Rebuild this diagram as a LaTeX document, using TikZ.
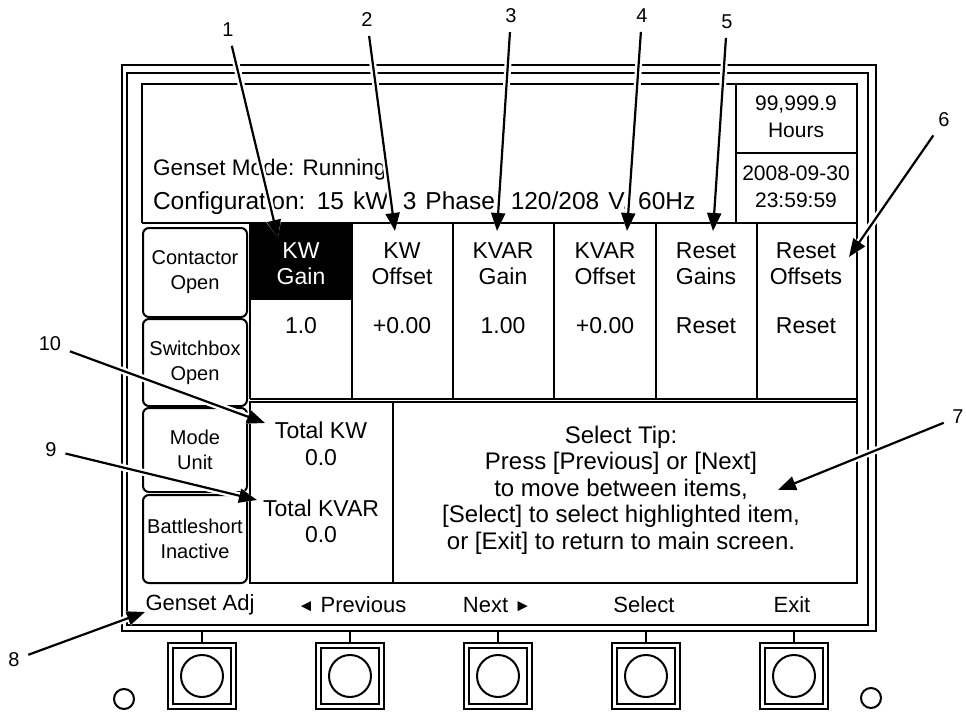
\documentclass[tikz,border=0pt]{standalone}
\usepackage{fontspec}
\setmainfont{Liberation Sans}
\usetikzlibrary{arrows.meta}

\newcommand{\pxfont}[2]{\fontsize{#1bp}{#2bp}\selectfont}

\begin{document}
\begin{tikzpicture}[x=1bp,y=-1bp,line width=2bp,
    callout/.style={-{Triangle[length=18bp,width=14bp]},line width=2.2bp,shorten <=4bp,
      preaction={draw=white,line width=7bp}},
    numlabel/.style={font=\pxfont{20}{24},inner sep=4bp},
    softkey/.style={draw,rounded corners=6bp,minimum width=104bp,inner sep=0pt,
      align=center,font=\pxfont{20}{25}},
    cellhead/.style={align=center,font=\pxfont{23}{26}},
    cellval/.style={font=\pxfont{23}{26}},
    keylabel/.style={font=\pxfont{22}{26}},
    keycap/.style={line width=1.6bp}]

    \useasboundingbox (0,0) rectangle (966,712);

    % housing
    \draw (122,65) rectangle (876,631);
    \draw (127,73) rectangle (868,625);

    % status area
    \draw (142,223) -- (142,84) -- (857,84) -- (857,583);
    \draw (736,84) rectangle (857,223);
    \draw (736,153) -- (857,153);
    \node[anchor=west,inner sep=0pt,font=\pxfont{22.5}{26}] (mode) at (152,170) {Genset Mode: Running};
    \node[anchor=west,inner sep=0pt,font={\pxfont{24.5}{26}\spaceskip=9bp\relax}] (config) at (152,203)
        {Configuration: 15 kW, 3 Phase, 120/208 V, 60Hz};
    \node[align=center,font=\pxfont{21}{27}] (hours) at (796,117) {99,999.9\\Hours};
    \node[align=center,font=\pxfont{21}{27}] (clock) at (796,187) {2008-09-30\\23:59:59};

    % parameter table
    \fill (250,223) rectangle (352,300);
    \draw (142,223) -- (857,223);
    \foreach \x in {250,352,453,554,656,757}
        \draw (\x,223) -- (\x,399);
    \draw (250,399) -- (857,399);

    \node[cellhead,text=white] (kwgain) at (301,264) {KW\\Gain};
    \node[cellhead] (kwoffset) at (402,264) {KW\\Offset};
    \node[cellhead] (kvargain) at (503,264) {KVAR\\Gain};
    \node[cellhead] (kvaroffset) at (605,264) {KVAR\\Offset};
    \node[cellhead] (resetgains) at (706,264) {Reset\\Gains};
    \node[cellhead] (resetoffsets) at (806,264) {Reset\\Offsets};

    \node[cellval] (kwgainval) at (301,326) {1.0};
    \node[cellval] (kwoffsetval) at (402,326) {+0.00};
    \node[cellval] (kvargainval) at (503,326) {1.00};
    \node[cellval] (kvaroffsetval) at (605,326) {+0.00};
    \node[cellval] (resetgainsval) at (706,326) {Reset};
    \node[cellval] (resetoffsetsval) at (806,326) {Reset};

    % side keys
    \node[softkey,minimum height=89bp] (contactor) at (195,272.5) {Contactor\\Open};
    \node[softkey,minimum height=87bp] (switchbox) at (195,362.5) {Switchbox\\Open};
    \node[softkey,minimum height=84bp] (modeunit) at (195,450) {Mode\\Unit};
    \node[softkey,minimum height=88bp] (battleshort) at (195,539) {Battleshort\\Inactive};

    % totals and tip
    \draw (250,402) rectangle (393,583);
    \draw (393,402) rectangle (857,583);
    \node[align=center,font=\pxfont{23}{27}] (totalkw) at (321,444) {Total KW\\0.0};
    \node[align=center,font=\pxfont{23}{26}] (totalkvar) at (321,521) {Total KVAR\\0.0};
    \node[align=center,font=\pxfont{24}{26.5}] (tip) at (621,490)
        {Select Tip:\\Press [Previous] or [Next]\\to move between items,\\{}[Select] to select highlighted item,\\or [Exit] to return to main screen.};

    % key labels
    \node[keylabel] (gensetadj) at (200,605) {Genset Adj};
    \node[keylabel] (previous) at (352,605) {\raisebox{1bp}{\pxfont{17}{17}◄} Previous};
    \node[keylabel] (next) at (497,605) {Next \raisebox{1bp}{\pxfont{17}{17}►}};
    \node[keylabel] (select) at (644,605) {Select};
    \node[keylabel] (exit) at (792,605) {Exit};

    % push buttons
    \foreach \bx in {202,350,498,646,794} {
        \draw[keycap] (\bx,631) -- (\bx,643);
        \draw[keycap] (\bx-34,643) rectangle (\bx+34,709);
        \draw[keycap] (\bx-29,648) rectangle (\bx+29,704);
        \draw (\bx,676) circle[radius=21bp];
    }
    \draw (124,699) circle[radius=10bp];
    \draw (871,698) circle[radius=10bp];

    % callouts
    \foreach \i/\lx/\ly/\tx/\ty in {1/228/30/278/238, 2/367/20/395/231, 3/511/16/497/231,
        4/642/16/627/231, 5/727/22/713/231, 6/944/120/849/257, 7/958/417/778/490,
        8/14/660/145/612, 9/51/450/257/500, 10/50/344/265/423} {
        \node[numlabel] (n\i) at (\lx,\ly) {\i};
        \coordinate (t\i) at (\tx,\ty);
        \draw[callout] (n\i) -- (t\i);
    }

\end{tikzpicture}
\end{document}
